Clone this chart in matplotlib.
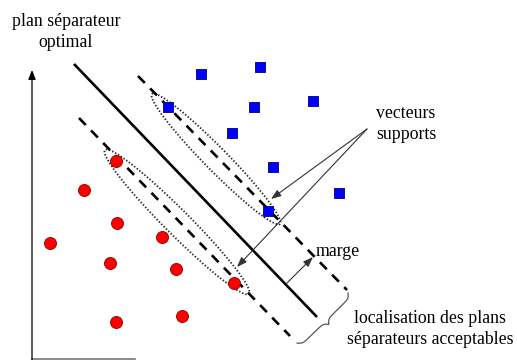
import numpy as np
import matplotlib
matplotlib.use("Agg")
import matplotlib.pyplot as plt
from matplotlib.patches import Ellipse

plt.rcParams['font.family'] = ['Liberation Serif', 'DejaVu Serif']
plt.rcParams['lines.scale_dashes'] = False

# positions (pixel units, y going down)
blue_x = [201, 260, 168, 254, 313, 232, 273, 339, 268]
blue_y = [74, 67, 107, 107, 101, 133, 167, 193, 211]

red_x = [116, 84, 117, 50, 162, 110, 176, 234, 116, 182]
red_y = [161, 190, 223, 243, 237, 263, 269, 283, 322, 316]

optimal_x = [74, 317]
optimal_y = [64, 317]
upper_x = [138, 347]
upper_y = [76, 290]
lower_x = [79, 290]
lower_y = [118, 336]

# support vector ellipses: (tip1, tip2, minor width)
upper_ell = [(152, 94), (280, 224), 23]
lower_ell = [(105, 150), (249, 294), 25]

label_title = "plan séparateur\noptimal"
label_sv = "vecteurs\nsupports"
label_marge = "marge"
label_loc = "localisation des plans\nséparateurs acceptables"

fig = plt.figure(figsize=(5.17, 3.60), dpi=100)
ax = fig.add_axes([0, 0, 1, 1])
ax.set_xlim(0, 517)
ax.set_ylim(360, 0)
ax.axis("off")

# axes of the sketch
ax.annotate("", xy=(32, 70), xytext=(32, 361),
            arrowprops=dict(arrowstyle="-|>,head_length=0.55,head_width=0.22",
                            color="black", lw=0.9, shrinkA=0, shrinkB=0))
ax.plot([32, 135], [359, 359], color="#777777", lw=1.2)

# separating planes
ax.plot(optimal_x, optimal_y, color="black", lw=1.9, solid_capstyle="butt")
ax.plot(upper_x, upper_y, color="black", lw=1.9, linestyle=(0, (7.0, 5.5)))
ax.plot(lower_x, lower_y, color="black", lw=1.9, linestyle=(0, (7.0, 5.5)))

# dotted ellipses around the support vectors
for (p1, p2, w) in [upper_ell, lower_ell]:
    cx = (p1[0] + p2[0]) / 2
    cy = (p1[1] + p2[1]) / 2
    length = np.hypot(p2[0] - p1[0], p2[1] - p1[1])
    ang = np.degrees(np.arctan2(p2[1] - p1[1], p2[0] - p1[0]))
    ax.add_patch(Ellipse((cx, cy), length, w, angle=ang, fill=False,
                         edgecolor="#222222", lw=1.3, linestyle=(0, (1.0, 1.4))))

# points
ax.scatter(blue_x, blue_y, marker="s", s=62, color="#0000ff",
           edgecolors="#00006a", linewidths=0.6, zorder=5)
ax.scatter(red_x, red_y, marker="o", s=75, color="#ff0000",
           edgecolors="#8b0000", linewidths=0.6, zorder=5)

# arrows to support vectors
arrow_style = dict(arrowstyle="-|>,head_length=0.6,head_width=0.22",
                   color="#333333", lw=0.8, shrinkA=0, shrinkB=0)
ax.annotate("", xy=(271, 199), xytext=(367, 129), arrowprops=arrow_style)
ax.annotate("", xy=(237, 267), xytext=(367, 129), arrowprops=arrow_style)

# margin arrow
ax.annotate("", xy=(313, 257), xytext=(287, 283), arrowprops=arrow_style)

# curly brace between the two margin planes
b1 = np.array([348.0, 293.0])
b2 = np.array([297.0, 343.0])
u = b2 - b1
L = np.hypot(*u)
u = u / L
v = np.array([-u[1], u[0]])
if v[0] < 0:
    v = -v
t = np.linspace(0, L / 2, 60)
beta = 0.55
half = 1 / (1 + np.exp(-beta * (t - t[0]))) + 1 / (1 + np.exp(-beta * (t - t[-1])))
half = (half - half[0]) / (half[-1] - half[0]) * 9.0
tt = np.concatenate([t, L - t[::-1]])
hh = np.concatenate([half, half[::-1]])
bx = b1[0] + tt * u[0] + hh * v[0]
by = b1[1] + tt * u[1] + hh * v[1]
ax.plot(bx, by, color="#555555", lw=0.9)

# texts
ax.text(66, 32, label_title, ha="center", va="center", fontsize=12.8,
        linespacing=1.3)
ax.text(376, 124, label_sv, ha="left", va="center", fontsize=12.8,
        linespacing=1.3)
ax.text(316, 251, label_marge, ha="left", va="center", fontsize=12.8)
ax.text(430, 329, label_loc, ha="center", va="center", fontsize=12.8,
        linespacing=1.25)

fig.savefig("out.png", dpi=100)
